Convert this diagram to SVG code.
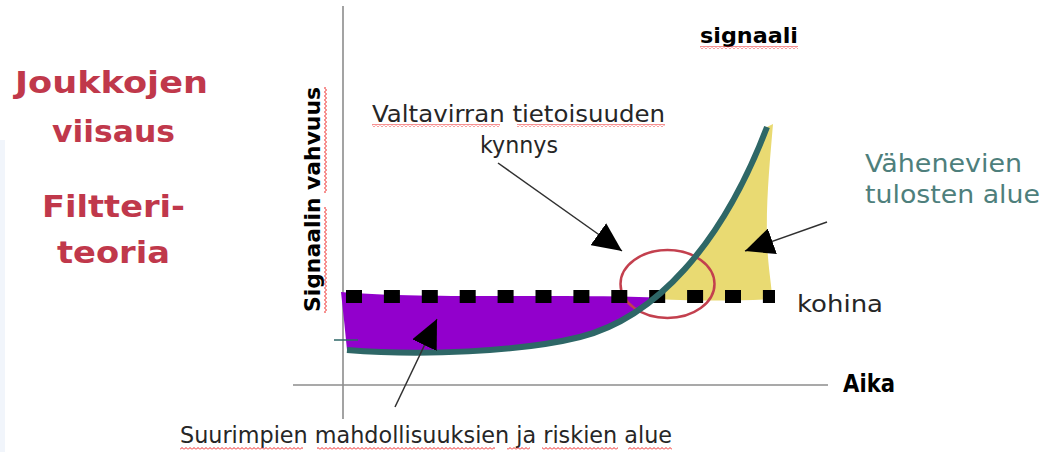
<svg xmlns="http://www.w3.org/2000/svg" width="1047" height="452" viewBox="0 0 1047 452">
<style>
.title{font-family:"DejaVu Sans",Verdana,sans-serif;font-weight:bold;font-size:31px;fill:#c0384b}
.lbl{font-family:"DejaVu Sans",Verdana,sans-serif;font-size:23px;fill:#262626}
.bold{font-family:"DejaVu Sans",Verdana,sans-serif;font-weight:bold;fill:#000}
.teal{font-family:"DejaVu Sans",Verdana,sans-serif;font-size:24px;fill:#4e7f7c}
.axis{stroke:#8c8c8c;stroke-width:1.6;fill:none}
.lead{stroke:#303030;stroke-width:1.5;fill:none;marker-end:url(#head)}
.wave{fill:url(#waveH)}
</style>
<defs>
<marker id="head" viewBox="0 0 29 27" refX="29" refY="13.5" markerWidth="29" markerHeight="27" markerUnits="userSpaceOnUse" orient="auto">
<path d="M0,0 L29,13.5 L0,27 Z" fill="#000"/>
</marker>
<pattern id="waveH" width="4" height="3" patternUnits="userSpaceOnUse">
<path d="M0,2.5 L2,0.5 L4,2.5" fill="none" stroke="#ee2424" stroke-width="1"/>
</pattern>
<pattern id="waveV" width="3" height="4" patternUnits="userSpaceOnUse">
<path d="M0.5,0 L2.5,2 L0.5,4" fill="none" stroke="#ee2424" stroke-width="1"/>
</pattern>
</defs>
<rect width="1047" height="452" fill="#fff"/>
<rect x="0" y="140" width="5" height="312" fill="#f1f5fb"/>

<g id="title">
<text class="title" x="15" y="93" textLength="193" lengthAdjust="spacingAndGlyphs">Joukkojen</text>
<text class="title" x="52" y="142" textLength="123" lengthAdjust="spacingAndGlyphs">viisaus</text>
<text class="title" x="42" y="217" textLength="143" lengthAdjust="spacingAndGlyphs">Filtteri-</text>
<text class="title" x="57" y="263" textLength="113" lengthAdjust="spacingAndGlyphs">teoria</text>
</g>

<g id="axes">
<line class="axis" x1="343" y1="6" x2="343" y2="419"/>
<line class="axis" x1="293" y1="385" x2="828" y2="385"/>
<text id="y-label" class="bold" font-size="22" transform="translate(320,312) rotate(-90)" textLength="225" lengthAdjust="spacingAndGlyphs">Signaalin vahvuus</text>
<rect x="324" y="87" width="3" height="106" fill="url(#waveV)"/>
<rect x="324" y="207" width="3" height="106" fill="url(#waveV)"/>
<text id="x-label" class="bold" font-size="24" x="843" y="392" textLength="52" lengthAdjust="spacingAndGlyphs">Aika</text>
</g>

<g id="opportunity-region">
<path d="M341,292 C420,299 560,294 655.2,297.6 C631.52,317.1 606.25,330.35 580,337 C520,352 420,356 347,350 L344,320 Z" fill="#9200cc"/>
</g>
<g id="diminishing-region">
<path d="M655.2,297.6 C699.2,261.4 737.75,203.7 767,127 L773,124 C770,160 766,200 767,240 C768,270 772,285 772,299 C740,301 700,301 655.2,299 Z" fill="#e9da72"/>
</g>
<g id="threshold-circle">
<ellipse cx="667.5" cy="284" rx="47" ry="34" fill="none" stroke="#c3404e" stroke-width="2.5"/>
</g>
<g id="noise">
<line x1="346" y1="296.5" x2="775" y2="296.5" stroke="#000" stroke-width="13" stroke-dasharray="16 21.9"/>
<text class="lbl" font-size="24" x="797" y="312" textLength="86" lengthAdjust="spacingAndGlyphs">kohina</text>
</g>
<g id="signal">
<line x1="334" y1="340" x2="358" y2="340" stroke="#2e6767" stroke-width="1.5"/>
<path d="M347,350 C420,356 520,352 580,337 C655,318 722,245 767,127" fill="none" stroke="#2e6767" stroke-width="6"/>
<text class="bold" font-size="21" x="700" y="43" textLength="98" lengthAdjust="spacingAndGlyphs">signaali</text>
<rect class="wave" x="700" y="46" width="98" height="3"/>
</g>

<g id="connectors">
<line class="lead" x1="498" y1="163" x2="622" y2="251"/>
<line class="lead" x1="827" y1="222" x2="745" y2="251"/>
<line class="lead" x1="395" y1="407" x2="437" y2="319"/>
</g>

<g id="threshold-label">
<text class="lbl" x="372" y="122" textLength="293" lengthAdjust="spacingAndGlyphs">Valtavirran tietoisuuden</text>
<rect class="wave" x="372" y="124" width="128" height="3"/>
<rect class="wave" x="517" y="124" width="148" height="3"/>
<text class="lbl" x="480" y="153" textLength="78" lengthAdjust="spacingAndGlyphs">kynnys</text>
</g>
<g id="diminishing-label">
<text class="teal" x="865" y="172" textLength="157" lengthAdjust="spacingAndGlyphs">Vähenevien</text>
<text class="teal" x="865" y="203" textLength="175" lengthAdjust="spacingAndGlyphs">tulosten alue</text>
</g>
<g id="opportunity-label">
<text class="lbl" font-size="22" x="180" y="443" textLength="492" lengthAdjust="spacingAndGlyphs">Suurimpien mahdollisuuksien ja riskien alue</text>
<rect class="wave" x="180" y="447" width="123" height="3"/>
<rect class="wave" x="317" y="447" width="178" height="3"/>
<rect class="wave" x="507" y="447" width="23" height="3"/>
<rect class="wave" x="542" y="447" width="76" height="3"/>
<rect class="wave" x="628" y="447" width="44" height="3"/>
</g>
</svg>
